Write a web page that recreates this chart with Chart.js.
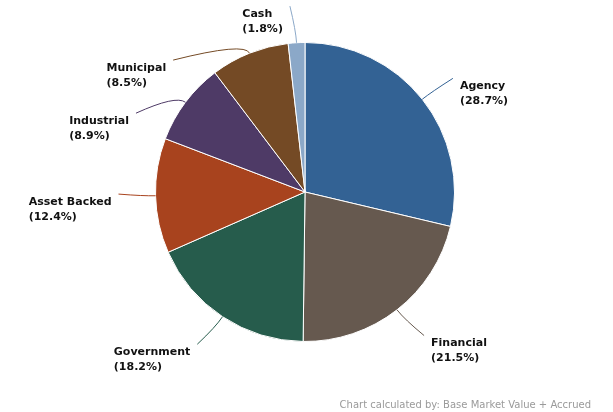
<!DOCTYPE html>
<html>
<head>
<meta charset="utf-8">
<script src="https://cdn.jsdelivr.net/npm/chart.js@4/dist/chart.umd.min.js"></script>
<style>
  html, body { margin: 0; padding: 0; background: #fff; }
  #wrap { width: 613px; height: 412px; position: relative; }
</style>
</head>
<body>
<div id="wrap"><canvas id="pie"></canvas></div>
<script>
// Portfolio sector allocation (percent of market value)
const sectors = ['Agency', 'Financial', 'Government', 'Asset Backed', 'Industrial', 'Municipal', 'Cash'];
const weights = [28.7, 21.5, 18.2, 12.4, 8.9, 8.5, 1.8];
const sectorColors = ['#336294', '#66594f', '#265c4c', '#a8431e', '#4e3a66', '#744a25', '#8ba8c8'];
const footnote = 'Chart calculated by: Base Market Value + Accrued';

// Angular shift (degrees) of each callout so neighbouring labels don't collide
const calloutShift = [0.8, -1.7, 1.8, 0.8, -11.9, -23.2, -1.4];

const LABEL_FONT = 'bold 11px "DejaVu Sans", Verdana, sans-serif';

const calloutPlugin = {
  id: 'callouts',
  afterDatasetsDraw(chart) {
    const ctx = chart.ctx;
    const arcs = chart.getDatasetMeta(0).data;
    ctx.save();
    arcs.forEach((arc, i) => {
      const cx = arc.x, cy = arc.y, r = arc.outerRadius;
      const mid = (arc.startAngle + arc.endAngle) / 2;
      const p1 = { x: cx + r * Math.cos(mid), y: cy + r * Math.sin(mid) };
      const c = { x: cx + (r + 12) * Math.cos(mid), y: cy + (r + 12) * Math.sin(mid) };
      const la = mid + calloutShift[i] * Math.PI / 180;
      const end = { x: cx + (r + 37) * Math.cos(la), y: cy + (r + 37) * Math.sin(la) };

      ctx.strokeStyle = sectorColors[i];
      ctx.lineWidth = 1;
      ctx.beginPath();
      ctx.moveTo(p1.x, p1.y);
      ctx.quadraticCurveTo(c.x, c.y, end.x, end.y);
      ctx.stroke();

      const lines = [sectors[i], '(' + weights[i].toFixed(1) + '%)'];
      ctx.font = LABEL_FONT;
      ctx.fillStyle = '#111';
      ctx.textBaseline = 'middle';
      ctx.textAlign = 'left';
      const w = Math.max(...lines.map(t => ctx.measureText(t).width));
      const right = Math.cos(la) >= 0;
      const x = right ? end.x + 7 : end.x - 7 - w;
      lines.forEach((t, k) => ctx.fillText(t, x, end.y + 8 + k * 15));
    });

    ctx.font = '10px "DejaVu Sans", Verdana, sans-serif';
    ctx.fillStyle = '#9a9a9a';
    ctx.textAlign = 'right';
    ctx.textBaseline = 'middle';
    ctx.fillText(footnote, 591, 405);
    ctx.restore();
  }
};

new Chart(document.getElementById('pie'), {
  type: 'pie',
  data: {
    labels: sectors,
    datasets: [{
      data: weights,
      backgroundColor: sectorColors,
      borderColor: '#ffffff',
      borderWidth: 1
    }]
  },
  options: {
    responsive: true,
    maintainAspectRatio: false,
    animation: false,
    layout: { padding: { top: 42, bottom: 70, left: 0, right: 3 } },
    plugins: {
      legend: { display: false },
      tooltip: { enabled: false }
    }
  },
  plugins: [calloutPlugin]
});
</script>
</body>
</html>
